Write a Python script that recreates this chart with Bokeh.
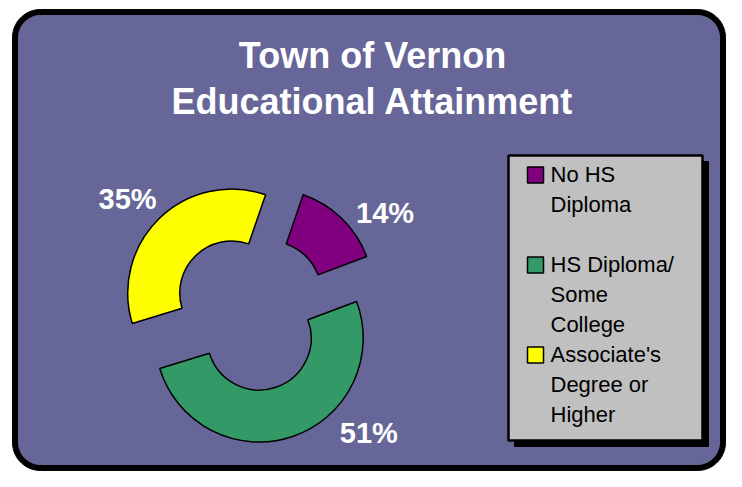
import numpy as np
from bokeh.plotting import figure
from bokeh.models import Range1d
from bokeh.core.properties import value
from bokeh.embed import file_html
from bokeh.resources import INLINE

# ---- data ----
title_lines = ["Town of Vernon", "Educational Attainment"]
categories = ["No HS\nDiploma", "HS Diploma/\nSome\nCollege", "Associate's\nDegree or\nHigher"]
shares = [14, 51, 35]
pct_labels = ["14%", "51%", "35%"]
colors = ["#800080", "#339966", "#FFFF00"]

# ---- layout helpers (pixel coords, y down; converted to y up) ----
W, H = 726, 471
FONT = "Liberation Sans"


def Y(v):
    return H - np.asarray(v, dtype=float)


def rrect(x0, y0, x1, y1, r, n=20):
    xs, ys = [], []
    corners = [(x1 - r, y0 + r, -90, 0), (x1 - r, y1 - r, 0, 90),
               (x0 + r, y1 - r, 90, 180), (x0 + r, y0 + r, 180, 270)]
    for cx, cy, a0, a1 in corners:
        t = np.radians(np.linspace(a0, a1, n))
        xs += list(cx + r * np.cos(t))
        ys += list(cy + r * np.sin(t))
    return xs, list(Y(ys))


p = figure(width=W, height=H, x_range=Range1d(0, W), y_range=Range1d(0, H),
           output_backend="svg", toolbar_location=None, min_border=0,
           x_axis_location=None, y_axis_location=None)
p.grid.visible = False
p.outline_line_color = None
p.background_fill_color = "white"
p.border_fill_color = "white"

# frame
fx, fy = rrect(12, 9, 725, 470, 28)
p.patch(fx, fy, fill_color="black", line_color="black")
ix, iy = rrect(18, 15, 719, 464, 22)
p.patch(ix, iy, fill_color="#666699", line_color="#666699")

# title
for k, line in enumerate(title_lines):
    p.text(x=[372], y=Y([55 + 46 * k]), text=[line], text_align="center",
           text_baseline="middle", text_color="white", text_font=value(FONT),
           text_font_size="36px", text_font_style="bold")

# exploded donut
start = 19.0
cum = np.concatenate([[0], np.cumsum(shares)]) / sum(shares) * 360 + start
t0, t1 = cum[:-1], cum[1:]
mid = (t0 + t1) / 2
cx, cy = 250, H - 312
explode = 27
R_out, R_in = 104, 52
sx = cx + explode * np.sin(np.radians(mid))
sy = cy + explode * np.cos(np.radians(mid))
p.annular_wedge(x=sx, y=sy, inner_radius=R_in, outer_radius=R_out,
                start_angle=np.radians(90 - t1), end_angle=np.radians(90 - t0),
                direction="anticlock", fill_color=colors, line_color="black", line_width=1.5)

# data labels
label_shift = np.array([9, -26, -3])
label_r = 168
la = np.radians(mid + label_shift)
p.text(x=cx + label_r * np.sin(la), y=cy + label_r * np.cos(la) - 1, text=pct_labels,
       text_align="center", text_baseline="middle", text_color="white",
       text_font=value(FONT), text_font_size="29px", text_font_style="bold")

# legend
p.quad(left=[514], right=[708], top=Y([161]), bottom=Y([446]), fill_color="black", line_color="black")
p.quad(left=[508], right=[702], top=Y([155]), bottom=Y([440]), fill_color="#C0C0C0",
       line_color="black", line_width=2.5)
mid0, step, slots = 173.5, 30, 3
for i, cat in enumerate(categories):
    b = mid0 + i * slots * step
    p.rect(x=[535], y=Y([b + 1]), width=16, height=16, fill_color=colors[i],
           line_color="black", line_width=1.5)
    for j, line in enumerate(cat.split("\n")):
        p.text(x=[550], y=Y([b + j * step]), text=[line], text_align="left",
               text_baseline="middle", text_color="black", text_font=value(FONT),
               text_font_size="22px")

open("out.html", "w").write(file_html(p, INLINE))
